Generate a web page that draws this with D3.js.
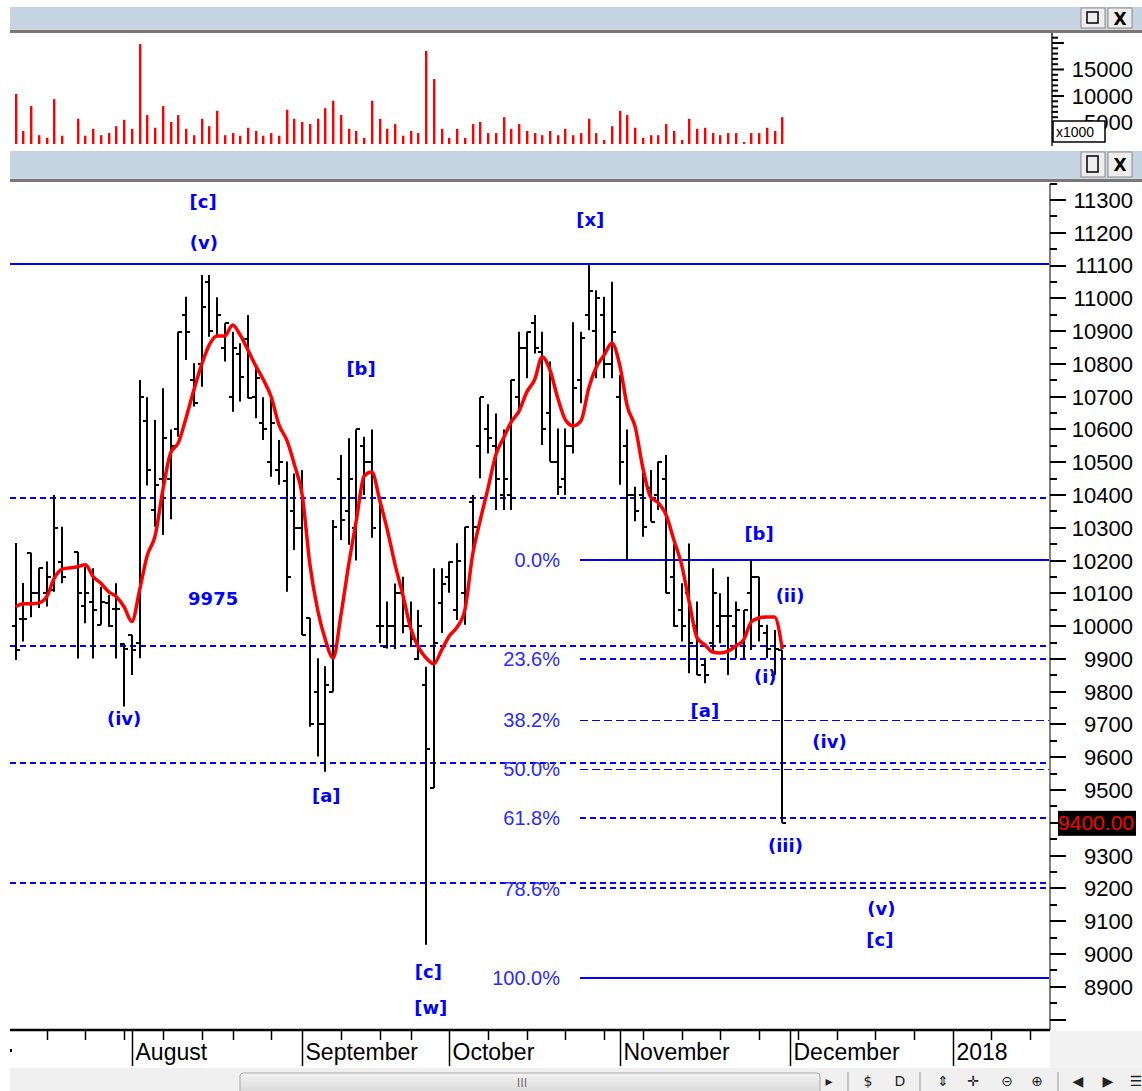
<!DOCTYPE html>
<html>
<head>
<meta charset="utf-8">
<script src="https://cdnjs.cloudflare.com/ajax/libs/d3/7.8.5/d3.min.js"></script>
<style>
    body { margin: 0; background: #fff; }
    svg { display: block; }
</style>
</head>
<body>
<svg id="chart" width="1142" height="1091"></svg>
<script>
(function () {
    'use strict';

    // one entry per trading day, index 7 is a gap (no bar)
    var highs = [10254, 10132, 10224, 10177, 10197, 10400, 10303, null, 10227, 10181,
        10177, 10120, 10095, 10131, 9948, 9973, 10751, 10698, 10629, 10726,
        10600, 10898, 11005, 10802, 11071, 11071, 11003, 10924, 10898, 10863,
        10949, 10792, 10698, 10700, 10568, 10502, 10466, 10476, 10025, 9902,
        9878, 10324, 10522, 10573, 10600, 10578, 10600, 10395, 10075, 10130,
        10151, 10075, 10049, 9876, 10177, 10177, 10197, 10253, 10303, 10400,
        10698, 10677, 10649, 10600, 10751, 10898, 10898, 10949, 10898, 10807,
        10603, 10603, 10927, 10898, 11102, 11025, 11005, 11051, 10766, 10600,
        10425, 10471, 10476, 10502, 10522, 10250, 10131, 10252, 10075, 9902,
        10177, 10100, 10151, 10075, 10049, 10202, 10151, 10004, 9988, 9927];
    var lows = [9897, 9953, 10027, 10055, 10060, 10105, 10131, null, 9901, 10009,
        9901, 10004, 9998, 9901, 9755, 9851, 9902, 10429, 10303, 10278,
        10326, 10578, 10812, 10670, 10730, 10883, 10883, 10807, 10654, 10685,
        10695, 10634, 10568, 10456, 10431, 10105, 10232, 9973, 9693, 9602,
        9556, 9800, 10263, 10248, 10200, 10400, 10270, 9948, 9932, 9930,
        9978, 9937, 9897, 9028, 9506, 9979, 10102, 10019, 10004, 10220,
        10451, 10527, 10354, 10354, 10354, 10649, 10756, 10832, 10553, 10502,
        10400, 10400, 10527, 10680, 10903, 10756, 10756, 10756, 10431, 10202,
        10320, 10273, 10319, 10354, 10100, 9998, 9953, 9856, 9851, 9826,
        9922, 9948, 9851, 9902, 9902, 9927, 9953, 9902, 9851, 9400];
    var opens = [10000, 10022, 10224, 10100, 10100, 10110, 10197, null, 10227, 10060,
        10075, 10004, 10070, 10052, 9945, 9973, 9950, 10627, 10353, 10450,
        10448, 10600, 10949, 10751, 10800, 11050, 10883, 10850, 10698, 10830,
        10876, 10700, 10620, 10502, 10476, 10444, 10350, 10300, 10025, 9800,
        9700, 9800, 10448, 10350, 10300, 10550, 10500, 10000, 9935, 10000,
        10100, 10000, 9900, 9821, 9506, 10070, 10150, 10049, 10100, 10380,
        10550, 10600, 10550, 10400, 10400, 10700, 10850, 10924, 10837, 10650,
        10500, 10450, 10550, 10750, 10949, 10900, 10950, 10800, 10700, 10550,
        10400, 10400, 10420, 10400, 10450, 10150, 10050, 10100, 10000, 9880,
        9950, 10000, 10030, 10000, 9950, 10100, 10151, 9980, 9851, 9927];
    var closes = [9927, 10022, 10100, 10177, 10150, 10300, 10150, null, 10100, 10100,
        10050, 10075, 10000, 10052, 9930, 9927, 10700, 10476, 10430, 10573,
        10550, 10898, 10898, 10680, 10975, 10900, 10950, 10924, 10848, 10760,
        10695, 10756, 10600, 10620, 10500, 10150, 10300, 9973, 9700, 9700,
        9820, 10303, 10324, 10450, 10600, 10502, 10300, 10000, 10000, 10100,
        10000, 9960, 10000, 9624, 9948, 10130, 10197, 10200, 10303, 10303,
        10698, 10573, 10450, 10448, 10751, 10850, 10898, 10850, 10600, 10502,
        10426, 10550, 10725, 10878, 11023, 11002, 10800, 10898, 10502, 10400,
        10350, 10303, 10319, 10502, 10100, 10000, 10000, 9950, 9851, 9850,
        10100, 10030, 10030, 10050, 10049, 10150, 10000, 9930, 9930, 9400];
    // red average line
    var avgLine = [10059, 10068, 10068, 10071, 10090, 10147, 10174, null, 10181, 10187,
        10151, 10131, 10105, 10090, 10059, 10014, 10110, 10217, 10275, 10415,
        10528, 10559, 10635, 10720, 10797, 10858, 10885, 10885, 10919, 10888,
        10842, 10794, 10751, 10699, 10614, 10568, 10492, 10400, 10187, 10049,
        9958, 9903, 10034, 10187, 10324, 10458, 10470, 10385, 10293, 10187,
        10095, 9994, 9936, 9903, 9885, 9927, 9970, 9997, 10049, 10217,
        10324, 10421, 10522, 10574, 10623, 10656, 10714, 10751, 10821, 10781,
        10696, 10629, 10611, 10626, 10726, 10791, 10827, 10864, 10797, 10669,
        10608, 10482, 10394, 10376, 10339, 10263, 10187, 10071, 9964, 9943,
        9921, 9918, 9924, 9939, 9958, 10013, 10025, 10028, 10028, 9930];
    // volume in thousands
    var volumes = [10.4, 3.4, 8.1, 2.6, 2.1, 9.4, 2.5, null, 5.7, 2.5,
        3.8, 2.6, 3.0, 4.3, 5.5, 3.8, 19.8, 6.4, 4.0, 8.1,
        5.1, 6.4, 3.8, 2.6, 5.7, 4.3, 7.2, 2.6, 3.0, 2.5,
        4.0, 3.4, 2.5, 3.0, 2.5, 7.4, 5.7, 5.1, 4.7, 5.7,
        7.7, 9.1, 6.4, 3.8, 3.4, 2.1, 9.1, 5.7, 3.8, 4.7,
        2.5, 3.4, 3.0, 18.5, 13.2, 3.8, 2.1, 3.8, 2.1, 4.7,
        5.1, 3.0, 3.0, 6.0, 3.8, 4.7, 3.4, 3.0, 2.6, 3.4,
        2.6, 3.8, 2.6, 3.0, 5.7, 3.0, 1.7, 4.3, 7.2, 6.4,
        4.0, 2.1, 2.6, 2.6, 4.7, 3.4, 1.7, 5.7, 3.8, 4.0,
        3.0, 2.6, 3.0, 3.0, 1.3, 3.0, 3.0, 4.0, 3.4, 6.0];

    var monthNames = ['August', 'September', 'October', 'November', 'December', '2018'];
    var monthStarts = [15, 37, 56, 78, 100, 121];
    var weekTicks = [4, 9, 14, 19, 24, 28, 33, 42, 47, 51, 61, 66, 71, 76, 81, 86, 91, 96,
        101, 106, 111, 116, 126, 131];

    var solidLevels = [11105];
    var dashedLevels = [10392, 9939, 9583, 9217];

    var fibTop = 10202, fibBottom = 8927;
    var fibRatios = [0, 0.236, 0.382, 0.5, 0.618, 0.786, 1];
    var fibNames = ['0.0%', '23.6%', '38.2%', '50.0%', '61.8%', '78.6%', '100.0%'];

    // wave labels: [text, bar index, price]
    var waveLabels = [
        ['[c]', 24.2, 11294], ['(v)', 24.3, 11169], ['[b]', 44.6, 10787],
        ['[x]', 74.2, 11242], ['9975', 25.5, 10083], ['(iv)', 14.0, 9717],
        ['[a]', 40.1, 9482], ['[c]', 53.3, 8945], ['[w]', 53.6, 8838],
        ['[b]', 96.0, 10284], ['(ii)', 100.0, 10092], ['(i)', 96.8, 9845],
        ['[a]', 89.0, 9744], ['(iv)', 105.1, 9649], ['(iii)', 99.4, 9332],
        ['(v)', 111.8, 9140], ['[c]', 111.6, 9043]
    ];

    var lastPrice = 9400;
    var priceTicks = d3.range(8900, 11301, 100);
    var volTicks = [5, 10, 15];

    var svg = d3.select('#chart');
    var LEFT = 10, AXIS_X = 1050, PLOT_TOP = 184, PLOT_BOTTOM = 1030;

    var x = d3.scaleLinear().domain([0, 99]).range([15.7, 782.3]);
    var y = d3.scaleLinear().domain([8768, 11358]).range([1030, 181]);
    var yv = d3.scaleLinear().domain([0.94, 20]).range([144, 43]);

    var idx = d3.range(highs.length).filter(function (i) { return highs[i] !== null; });

    /* ---------- window chrome ---------- */
    function headerBar(top, h) {
        svg.append('rect').attr('x', LEFT).attr('y', top).attr('width', 1142 - LEFT).attr('height', h)
            .attr('fill', '#c6d3e0');
        svg.append('rect').attr('x', LEFT).attr('y', top + h).attr('width', 1142 - LEFT).attr('height', 1)
            .attr('fill', '#d8d8d8');
        svg.append('rect').attr('x', LEFT).attr('y', top + h + 1).attr('width', 1142 - LEFT).attr('height', 3)
            .attr('fill', '#777');
        // the two little buttons
        [1081, 1108].forEach(function (bx, k) {
            svg.append('rect').attr('x', bx).attr('y', top + 1).attr('width', 24).attr('height', h - 2)
                .attr('fill', '#eeeeee').attr('stroke', '#8a8a8a');
            if (k === 0) {
                svg.append('rect').attr('x', bx + 6).attr('y', top + 5).attr('width', 11).attr('height', h - 11)
                    .attr('fill', 'none').attr('stroke', '#000').attr('stroke-width', 1.5);
            } else {
                svg.append('text').attr('x', bx + 12).attr('y', top + h / 2 + 1).attr('dy', '0.35em')
                    .attr('text-anchor', 'middle').attr('font-family', 'DejaVu Sans').attr('font-weight', 'bold')
                    .attr('font-size', '17px').text('X');
            }
        });
    }
    headerBar(7, 22);
    headerBar(151, 27);

    /* ---------- volume panel ---------- */
    var vg = svg.append('g');
    idx.forEach(function (i) {
        var bx = Math.round(x(i));
        vg.append('rect').attr('x', bx - 1).attr('y', yv(volumes[i])).attr('width', 2)
            .attr('height', 144 - yv(volumes[i])).attr('fill', '#ff0000');
        vg.append('rect').attr('x', bx + 1).attr('y', yv(volumes[i])).attr('width', 1)
            .attr('height', 144 - yv(volumes[i])).attr('fill', '#ff9a9a');
    });
    vg.append('line').attr('x1', 1052).attr('x2', 1052).attr('y1', 33).attr('y2', 146)
        .attr('stroke', '#555').attr('stroke-width', 2);
    d3.range(2, 22).forEach(function (v) {
        var major = v % 5 === 0;
        vg.append('line').attr('x1', 1052).attr('x2', major ? 1064 : 1058)
            .attr('y1', yv(v)).attr('y2', yv(v)).attr('stroke', '#000').attr('stroke-width', 2);
    });
    volTicks.forEach(function (v) {
        vg.append('text').attr('x', 1133).attr('y', yv(v)).attr('dy', '0.36em').attr('text-anchor', 'end')
            .attr('font-family', 'Liberation Sans').attr('font-size', '22px').attr('fill', '#000')
            .text(d3.format('d')(v * 1000));
    });
    vg.append('rect').attr('x', 1053).attr('y', 121).attr('width', 52).attr('height', 21)
        .attr('fill', '#fff').attr('stroke', '#000').attr('stroke-width', 1.5);
    vg.append('text').attr('x', 1056).attr('y', 137).attr('font-family', 'Liberation Sans')
        .attr('font-size', '14px').text('x1000');

    /* ---------- price panel ---------- */
    var pg = svg.append('g');

    solidLevels.forEach(function (p) {
        pg.append('line').attr('x1', LEFT).attr('x2', AXIS_X).attr('y1', Math.round(y(p))).attr('y2', Math.round(y(p)))
            .attr('stroke', '#0000ff').attr('stroke-width', 2);
    });
    dashedLevels.forEach(function (p) {
        pg.append('line').attr('x1', LEFT).attr('x2', AXIS_X).attr('y1', Math.round(y(p))).attr('y2', Math.round(y(p)))
            .attr('stroke', '#0000ff').attr('stroke-width', 2).attr('stroke-dasharray', '6,4');
    });

    // fibonacci retracement
    var fibX0 = 580;
    fibRatios.forEach(function (r, k) {
        var p = fibTop - r * (fibTop - fibBottom);
        var ly = Math.round(y(p));
        var line = pg.append('line').attr('x1', fibX0).attr('x2', AXIS_X).attr('stroke', '#0000ff');
        if (r === 0 || r === 1) {
            line.attr('y1', ly).attr('y2', ly).attr('stroke-width', 2);
        } else if (r === 0.382 || r === 0.5) {
            line.attr('y1', ly + 0.5).attr('y2', ly + 0.5).attr('stroke-width', 1)
                .attr('stroke-dasharray', '8,4').attr('shape-rendering', 'crispEdges');
        } else {
            line.attr('y1', ly).attr('y2', ly).attr('stroke-width', 2).attr('stroke-dasharray', '6,4');
        }
        pg.append('text').attr('x', 560).attr('y', y(p)).attr('dy', '0.36em').attr('text-anchor', 'end')
            .attr('font-family', 'Liberation Sans').attr('font-size', '20px').attr('fill', '#2a2aff')
            .text(fibNames[k]);
    });

    // OHLC bars
    var bars = pg.append('g').attr('stroke', '#000').attr('stroke-width', 2);
    idx.forEach(function (i) {
        var bx = Math.round(x(i));
        bars.append('line').attr('x1', bx).attr('x2', bx).attr('y1', y(highs[i])).attr('y2', y(lows[i]));
        bars.append('line').attr('x1', bx - 4).attr('x2', bx).attr('y1', Math.round(y(opens[i])))
            .attr('y2', Math.round(y(opens[i])));
        bars.append('line').attr('x1', bx).attr('x2', bx + 4).attr('y1', Math.round(y(closes[i])))
            .attr('y2', Math.round(y(closes[i])));
    });

    // red average
    pg.append('path')
        .datum(idx)
        .attr('fill', 'none')
        .attr('stroke', '#ff0000')
        .attr('stroke-width', 3.5)
        .attr('stroke-linejoin', 'round')
        .attr('d', d3.line()
            .x(function (i) { return x(i); })
            .y(function (i) { return y(avgLine[i]); })
            .curve(d3.curveMonotoneX));

    // wave labels
    waveLabels.forEach(function (w) {
        pg.append('text').attr('x', x(w[1])).attr('y', y(w[2])).attr('dy', '0.36em')
            .attr('text-anchor', 'middle').attr('font-family', 'DejaVu Sans').attr('font-weight', 'bold')
            .attr('font-size', '18px').attr('fill', '#0000ff').text(w[0]);
    });

    /* ---------- right price axis ---------- */
    pg.append('line').attr('x1', AXIS_X).attr('x2', AXIS_X).attr('y1', PLOT_TOP).attr('y2', PLOT_BOTTOM)
        .attr('stroke', '#808080').attr('stroke-width', 2);
    d3.range(8800, 11351, 50).forEach(function (p) {
        var major = p % 100 === 0;
        pg.append('line').attr('x1', AXIS_X).attr('x2', AXIS_X + (major ? 16 : 7))
            .attr('y1', Math.round(y(p))).attr('y2', Math.round(y(p))).attr('stroke', '#000').attr('stroke-width', 2);
    });
    // the tick label under the last-price tag is hidden by it
    priceTicks.filter(function (p) { return p !== lastPrice; }).forEach(function (p) {
        pg.append('text').attr('x', 1133).attr('y', y(p)).attr('dy', '0.36em').attr('text-anchor', 'end')
            .attr('font-family', 'Liberation Sans').attr('font-size', '22px').attr('fill', '#000')
            .text(p);
    });
    pg.append('rect').attr('x', 1058).attr('y', y(lastPrice) - 12).attr('width', 78).attr('height', 25)
        .attr('fill', '#000');
    pg.append('text').attr('x', 1134).attr('y', y(lastPrice)).attr('dy', '0.36em').attr('text-anchor', 'end')
        .attr('font-family', 'Liberation Sans').attr('font-size', '21px').attr('fill', '#ff0000')
        .text(d3.format('.2f')(lastPrice));

    /* ---------- time axis ---------- */
    svg.append('rect').attr('x', AXIS_X).attr('y', PLOT_BOTTOM + 1).attr('width', 1142 - AXIS_X)
        .attr('height', 37).attr('fill', '#f2f2f2');
    svg.append('line').attr('x1', LEFT).attr('x2', AXIS_X).attr('y1', PLOT_BOTTOM).attr('y2', PLOT_BOTTOM)
        .attr('stroke', '#000').attr('stroke-width', 2.5);
    weekTicks.forEach(function (t) {
        var tx = Math.round(x(t)) + 0.5;
        if (tx < AXIS_X) {
            svg.append('line').attr('x1', tx).attr('x2', tx).attr('y1', PLOT_BOTTOM).attr('y2', PLOT_BOTTOM + 10)
                .attr('stroke', '#000').attr('stroke-width', 1.5);
        }
    });
    monthStarts.forEach(function (m, k) {
        var mx = Math.round(x(m)) + 0.5;
        svg.append('line').attr('x1', mx).attr('x2', mx).attr('y1', PLOT_BOTTOM).attr('y2', PLOT_BOTTOM + 36)
            .attr('stroke', '#000').attr('stroke-width', 1.5);
        svg.append('text').attr('x', mx + 3).attr('y', PLOT_BOTTOM + 30)
            .attr('font-family', 'Liberation Sans').attr('font-size', '23px').attr('fill', '#000')
            .text(monthNames[k]);
    });
    svg.append('rect').attr('x', 10).attr('y', 1049).attr('width', 2).attr('height', 3).attr('fill', '#000');

    /* ---------- scroll / tool bar ---------- */
    svg.append('rect').attr('x', LEFT).attr('y', 1068).attr('width', 1142 - LEFT).attr('height', 23)
        .attr('fill', '#f0f0f0');
    var grad = svg.append('defs').append('linearGradient').attr('id', 'thumb')
        .attr('x1', 0).attr('x2', 0).attr('y1', 0).attr('y2', 1);
    grad.append('stop').attr('offset', '0%').attr('stop-color', '#f4f4f4');
    grad.append('stop').attr('offset', '100%').attr('stop-color', '#d6d6d6');
    svg.append('rect').attr('x', 240).attr('y', 1073).attr('width', 580).attr('height', 22).attr('rx', 3)
        .attr('fill', 'url(#thumb)').attr('stroke', '#a8a8a8');
    svg.append('text').attr('x', 522).attr('y', 1087).attr('text-anchor', 'middle')
        .attr('font-family', 'DejaVu Sans').attr('font-size', '12px').attr('fill', '#777').text('III');
    var tools = [['\u25B8', 829], ['$', 868], ['D', 900], ['\u21D5', 943], ['\u271B', 973],
        ['\u229D', 1007], ['\u2295', 1037], ['\u25C0', 1078], ['\u25B6', 1108], ['\u2630', 1136]];
    tools.forEach(function (t) {
        svg.append('text').attr('x', t[1]).attr('y', 1086).attr('text-anchor', 'middle')
            .attr('font-family', 'DejaVu Sans').attr('font-size', '14px').attr('fill', '#222').text(t[0]);
    });
    [848, 920, 1058].forEach(function (sx) {
        svg.append('line').attr('x1', sx).attr('x2', sx).attr('y1', 1072).attr('y2', 1091)
            .attr('stroke', '#999');
    });
})();
</script>
</body>
</html>
